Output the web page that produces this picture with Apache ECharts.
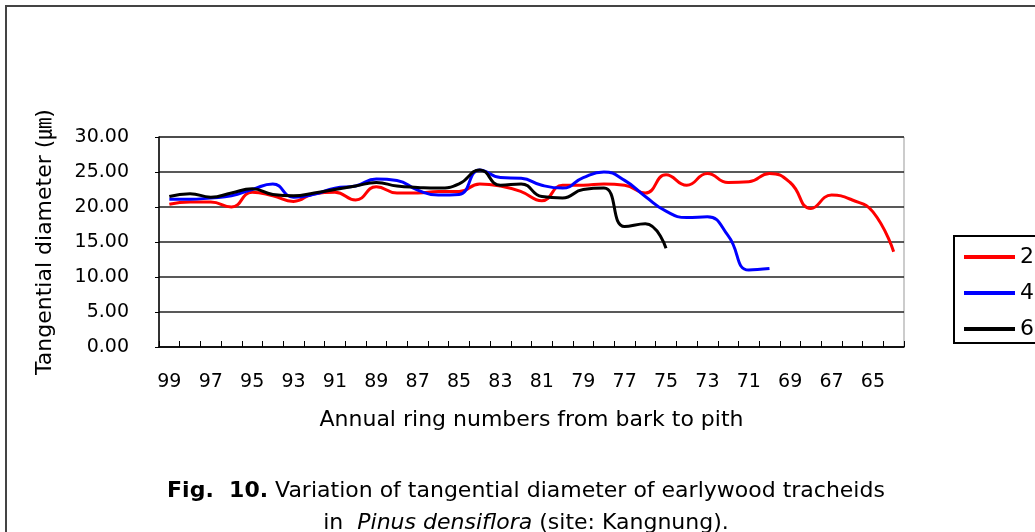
<!DOCTYPE html>
<html>
<head>
<meta charset="utf-8">
<script src="https://cdn.jsdelivr.net/npm/echarts@6/dist/echarts.min.js"></script>
<style>
html,body{margin:0;padding:0;background:#fff;}
#chart{width:1035px;height:532px;}
</style>
</head>
<body>
<div id="chart"></div>
<script>
const categories = ['99','98','97','96','95','94','93','92','91','90','89','88','87','86','85','84','83','82','81','80','79','78','77','76','75','74','73','72','71','70','69','68','67','66','65','64'];
const series2 = [20.4, 20.7, 20.7, 20.0, 22.1, 21.6, 20.8, 21.9, 22.1, 21.0, 22.9, 22.0, 22.0, 22.2, 22.2, 23.3, 23.0, 22.2, 20.9, 23.1, 23.1, 23.3, 23.1, 22.0, 24.6, 23.1, 24.8, 23.5, 23.6, 24.8, 23.5, 19.8, 21.7, 21.0, 19.3, 13.6];
const series4 = [21.1, 21.1, 21.3, 21.6, 22.5, 23.3, 21.4, 21.8, 22.7, 23.0, 24.0, 23.8, 22.4, 21.7, 21.8, 25.3, 24.2, 24.1, 23.1, 22.7, 24.2, 25.0, 23.8, 21.5, 19.4, 18.5, 18.6, 15.9, 11.0, 11.2];
const series6 = [21.5, 21.9, 21.4, 22.0, 22.6, 21.8, 21.6, 22.0, 22.5, 23.0, 23.5, 23.0, 22.8, 22.7, 23.3, 25.3, 23.1, 23.3, 21.5, 21.3, 22.5, 22.7, 17.2, 17.6, 14.1];
const seriesNames = ['2', '4', '6'];
const yTicks = [0, 5, 10, 15, 20, 25, 30];

const FONT = '"DejaVu Sans", "Noto Sans CJK KR", sans-serif';
const chart = echarts.init(document.getElementById('chart'), null, {renderer: 'canvas'});

function mk(name, data, color) {
  return {
    name: name, type: 'line', data: data, smooth: true, showSymbol: false,
    symbol: 'none', animation: false,
    lineStyle: {color: color, width: 3}, itemStyle: {color: color}
  };
}

chart.setOption({
  backgroundColor: '#fff',
  animation: false,
  textStyle: {fontFamily: FONT},
  title: {
    left: 521, top: 470, textAlign: 'center',
    text: '{b|Fig.  10.} Variation of tangential diameter of earlywood tracheids\nin  {i|Pinus densiflora} (site: Kangnung).',
    textStyle: {
      fontFamily: FONT, fontSize: 22, fontWeight: 'normal', color: '#000', lineHeight: 32,
      rich: {
        b: {fontFamily: FONT, fontSize: 22, fontWeight: 'bold', color: '#000', lineHeight: 32},
        i: {fontFamily: FONT, fontSize: 22, fontStyle: 'italic', color: '#000', lineHeight: 32}
      }
    }
  },
  grid: {left: 159, top: 137, right: 131, bottom: 185, show: true, borderColor: '#999', borderWidth: 1, backgroundColor: 'transparent'},
  legend: {
    orient: 'vertical', left: 964, top: 246, padding: 0,
    itemWidth: 51, itemHeight: 4, itemGap: 14, icon: 'rect',
    data: seriesNames,
    textStyle: {fontFamily: FONT, fontSize: 22, lineHeight: 22, color: '#000'}
  },
  xAxis: {
    type: 'category', data: categories, boundaryGap: true,
    name: 'Annual ring numbers from bark to pith', nameLocation: 'middle', nameGap: 62,
    nameTextStyle: {fontFamily: FONT, fontSize: 22, color: '#000'},
    axisLine: {lineStyle: {color: '#000', width: 1.5}},
    axisTick: {show: true, inside: true, length: 6, interval: 0, lineStyle: {color: '#000', width: 1}},
    axisLabel: {interval: 1, margin: 26, fontFamily: FONT, fontSize: 19, color: '#000'},
    splitLine: {show: false}
  },
  yAxis: {
    type: 'value', min: yTicks[0], max: yTicks[yTicks.length - 1], interval: 5,
    name: 'Tangential diameter (㎛)', nameLocation: 'middle', nameRotate: 90, nameGap: 103,
    nameTextStyle: {fontFamily: FONT, fontSize: 22, color: '#000'},
    axisLine: {show: true, lineStyle: {color: '#000', width: 1.5}},
    axisTick: {show: true, inside: false, length: 4, lineStyle: {color: '#000'}},
    axisLabel: {margin: 30, fontFamily: FONT, fontSize: 19, color: '#000', formatter: v => v.toFixed(2)},
    splitLine: {show: true, lineStyle: {color: '#222', width: 1.5}}
  },
  graphic: [
    {type: 'rect', shape: {x: 6, y: 6, width: 1200, height: 800}, style: {fill: 'none', stroke: '#444', lineWidth: 2}, silent: true},
    {type: 'rect', shape: {x: 954, y: 236, width: 200, height: 107}, style: {fill: 'none', stroke: '#000', lineWidth: 2}, silent: true}
  ],
  series: [
    mk(seriesNames[0], series2, '#ff0000'),
    mk(seriesNames[1], series4, '#0000ff'),
    mk(seriesNames[2], series6, '#000000')
  ]
});
</script>
</body>
</html>
